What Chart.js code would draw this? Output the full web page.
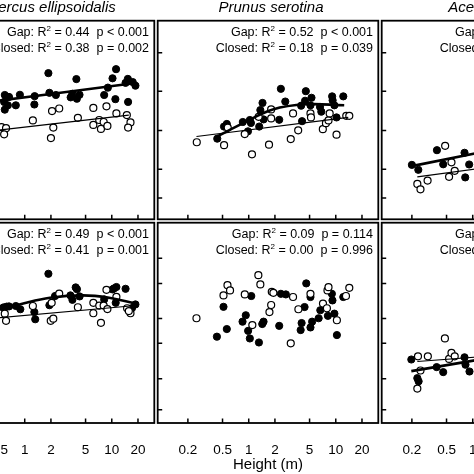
<!DOCTYPE html>
<html lang="en">
<head>
<meta charset="UTF-8">
<title>Growth vs height</title>
<script src="https://cdn.jsdelivr.net/npm/chart.js@4.4.1/dist/chart.umd.min.js"></script>
<style>
  html, body { margin: 0; padding: 0; background: #fff; }
  #fig { position: relative; width: 474px; height: 474px; overflow: hidden;
         font-family: 'Liberation Sans', Arial, Helvetica, sans-serif; color: #000; }
  #fig canvas { position: absolute; }
  .sp { position: absolute; top: -1px; width: 224px; text-align: center; font-style: italic;
        font-size: 15px; line-height: 15px; white-space: nowrap; }
  .stat { position: absolute; text-align: right; font-size: 12.5px; line-height: 15.5px; white-space: pre; }
  .stat sup { font-size: 8px; line-height: 0; vertical-align: 5px; }
</style>
</head>
<body>
<div id="fig"></div>
<script>
// species (columns) and the stats printed in each panel
const species = ['Quercus ellipsoidalis', 'Prunus serotina', 'Acer negundo'];
const gapStats = [['0.44', 'p < 0.001', '0.52', 'p < 0.001', '0.31', 'p = 0.005'],
                  ['0.49', 'p < 0.001', '0.09', 'p = 0.114', '0.27', 'p = 0.012']];
const closedStats = [['0.38', 'p = 0.002', '0.18', 'p = 0.039', '0.22', 'p = 0.021'],
                     ['0.41', 'p = 0.001', '0.00', 'p = 0.996', '0.05', 'p = 0.310']];

// axis ticks
const heightTicks = [0.2, 0.5, 1, 2, 5, 10, 20];
const yTicksTop = [83.8, 64.5, 44.7, 25.2, 10.7];
const yTicksBottom = [82.3, 69.6, 52.2, 39.8, 22.1, 6.6];

// Quercus, top row
const qeGapTop = [[0.58,59.1],[0.59,62.6],[0.66,61.6],[0.64,57.4],[0.59,55.2],[0.79,57.4],[0.88,62.7],[1.29,57.8],[1.30,62.0],[1.87,73.6],[1.92,63.7],[2.28,62.6],[3.37,61.4],[3.52,63.2],[3.92,70.6],[3.97,60.7],[4.26,62.7],[8.18,62.6],[9.02,66.3],[10.2,71.0],[11.2,75.6],[11.0,60.5],[14.4,68.7],[15.3,70.7],[17.4,69.1],[18.7,67.3],[15.4,59.1]];
const qeClosedTop = [[0.54,46.4],[0.61,45.9],[0.58,42.8],[1.24,49.8],[2.06,54.5],[2.49,55.8],[2.13,46.2],[2.00,40.9],[4.08,51.1],[6.14,56.1],[6.14,47.5],[7.18,50.0],[7.51,45.5],[8.07,49.0],[8.91,47.0],[8.69,56.9],[11.3,53.3],[14.9,52.5],[16.4,48.8],[15.4,46.2]];
const qeGapFitTop = [[0.2,57.5],[17.9,68.5]];
const qeClosedFitTop = [[0.2,42.9],[15.7,52.5]];

// Quercus, bottom row
const qeGapBot = [[0.57,57.7],[0.62,58.1],[0.66,58.2],[0.79,58.4],[0.89,56.8],[1.29,55.4],[1.32,51.8],[1.87,74.5],[1.92,58.8],[2.23,63.4],[3.35,63.7],[3.53,61.5],[3.85,67.7],[3.98,66.8],[4.27,63.2],[8.18,61.7],[10.2,66.7],[10.6,67.2],[11.3,67.9],[11.1,60.0],[14.4,67.0],[17.1,57.4],[18.7,59.2]];
const qeClosedBot = [[0.59,54.6],[0.61,51.0],[1.24,58.4],[2.04,60.0],[1.99,51.0],[2.13,52.1],[2.49,64.6],[4.08,57.8],[6.14,60.0],[6.14,54.8],[7.18,58.6],[7.51,50.0],[8.07,58.6],[8.91,56.9],[8.69,66.5],[11.3,63.0],[15.0,57.3],[16.4,54.8],[15.7,55.9]];
const qeGapFitBot = [[0.2,51.5],[0.53,56.8],[0.89,59.3],[1.95,62.5],[4.65,63.7],[9.32,62.5],[18.7,59.6]];
const qeClosedFitBot = [[0.2,51.0],[16.4,58.4]];

// Prunus, top row
const psGapTop = [[0.435,40.6],[0.52,46.7],[0.56,48.0],[0.855,49.0],[1.03,50.0],[1.06,48.5],[0.98,44.3],[1.32,46.7],[1.36,55.0],[1.44,58.6],[1.48,50.3],[2.34,65.7],[2.63,59.3],[2.24,50.1],[4.0,57.2],[4.1,49.4],[4.53,64.5],[4.44,59.7],[5.26,61.2],[5.12,57.4],[6.59,56.6],[6.82,54.2],[9.08,61.9],[9.2,59.9],[9.64,57.4],[10.2,51.3],[12.2,61.9]];
const psClosedTop = [[0.253,38.8],[0.521,37.3],[0.574,46.2],[0.90,42.9],[1.09,32.7],[1.30,51.6],[1.81,55.3],[1.81,50.8],[1.71,37.6],[3.04,40.4],[3.23,53.3],[3.70,44.8],[5.12,53.3],[5.19,51.3],[7.10,45.4],[7.71,48.4],[8.25,49.8],[8.51,53.3],[10.2,42.6],[13.2,52.1],[14.3,52.1]];
const psGapFitTop = [[0.432,41.7],[0.865,48.4],[1.89,55.3],[4.5,57.9],[12.5,57.4]];
const psClosedFitTop = [[0.251,41.7],[13.9,51.3]];

// Prunus, bottom row (no significant fit)
const psGapBot = [[0.431,43.1],[0.513,58.0],[0.56,46.9],[0.849,50.6],[0.925,53.8],[0.984,46.0],[1.03,42.2],[1.07,63.4],[1.31,40.2],[1.43,49.4],[1.48,50.6],[2.24,48.5],[2.34,64.5],[2.67,64.2],[3.95,46.4],[4.05,49.9],[4.38,57.9],[4.58,69.7],[5.12,62.9],[5.12,47.7],[5.35,50.6],[6.36,52.3],[6.64,56.3],[8.12,53.5],[9.02,64.5],[9.16,61.2],[9.64,54.6],[10.3,43.9],[12.2,62.9]];
const psClosedBot = [[0.251,52.3],[0.513,63.7],[0.57,68.8],[0.61,66.2],[0.901,64.2],[1.10,48.9],[1.29,73.8],[1.36,69.2],[1.73,55.4],[1.81,58.9],[1.84,65.5],[1.92,65.0],[3.04,39.8],[3.23,62.9],[3.72,56.8],[5.12,64.5],[7.13,59.6],[7.91,57.3],[8.03,66.2],[8.25,67.8],[10.3,51.3],[13.1,63.4],[14.3,67.5]];

// Acer, top row
const arGapTop = [[0.200,27.4],[0.237,24.9],[0.388,34.8],[0.458,27.7],[0.805,33.5],[0.910,27.6],[0.820,21.1]];
const arClosedTop = [[0.482,37.0],[0.570,28.7],[0.621,24.4],[0.535,21.4],[0.303,19.5],[0.231,17.8],[0.251,15.1]];
const arGapFitTop = [[0.206,26.9],[9.8,41.7]];
const arClosedFitTop = [[0.231,21.4],[9.8,31.0]];

// Acer, bottom row
const arGapBot = [[0.197,31.7],[0.231,22.4],[0.239,20.8],[0.385,27.9],[0.458,25.4],[0.805,32.8],[0.826,29.1],[0.918,25.7]];
const arClosedBot = [[0.235,33.3],[0.305,33.3],[0.479,42.2],[0.535,32.0],[0.570,35.0],[0.621,33.3],[0.251,26.2],[0.231,17.2]];
const arGapFitBot = [[0.197,25.9],[9.8,38.4]];
const arClosedFitBot = [[0.231,30.7],[9.8,36.0]];

const FONT = "'Liberation Sans', Arial, Helvetica, sans-serif";
const PW = 224, PH = 202, X0 = -68, Y0 = 19, M = 3, AXIS_H = 51;
const fig = document.getElementById('fig');
const pts = a => a.map(([x, y]) => ({x, y}));

// box + inward tick marks, placed with the chart's own scales
const framePlugin = {
  id: 'frame',
  afterDatasetsDraw(chart, args, opts) {
    const {ctx, chartArea: a, scales: {x, y}} = chart;
    ctx.save();
    ctx.strokeStyle = '#000';
    ctx.lineWidth = 1.8;
    ctx.strokeRect(a.left, a.top, a.right - a.left, a.bottom - a.top);
    ctx.lineWidth = 1.5;
    ctx.beginPath();
    heightTicks.forEach(v => {
      const px = x.getPixelForValue(v);
      ctx.moveTo(px, a.bottom); ctx.lineTo(px, a.bottom - 4.5);
    });
    opts.yTicks.forEach(v => {
      const py = y.getPixelForValue(v);
      ctx.moveTo(a.left, py); ctx.lineTo(a.left + 4.5, py);
    });
    ctx.stroke();
    ctx.restore();
  }
};

function panel(row, col, gap, closed, gapFit, closedFit) {
  const left = X0 + col * PW, top = Y0 + row * PH;
  const bottomRow = row === 1;
  const w = PW + 2 * M, h = bottomRow ? M + PH + AXIS_H : PH + 2 * M;
  const cv = document.createElement('canvas');
  cv.width = w; cv.height = h;
  cv.style.left = (left - M) + 'px';
  cv.style.top = (top - M) + 'px';
  cv.style.width = w + 'px';
  cv.style.height = h + 'px';
  fig.appendChild(cv);

  const datasets = [];
  if (gapFit) datasets.push({data: pts(gapFit), showLine: true, borderColor: '#000', borderWidth: 2.6,
    pointRadius: 0, tension: 0.4, fill: false});
  if (closedFit) datasets.push({data: pts(closedFit), showLine: true, borderColor: '#000', borderWidth: 1.2,
    pointRadius: 0, fill: false});
  datasets.push({data: pts(closed), pointRadius: 3.5, pointHoverRadius: 3.5,
    pointBackgroundColor: '#fff', pointBorderColor: '#000', pointBorderWidth: 1.2});
  datasets.push({data: pts(gap), pointRadius: 3.6, pointHoverRadius: 3.6,
    pointBackgroundColor: '#000', pointBorderColor: '#000', pointBorderWidth: 1});

  new Chart(cv, {
    type: 'scatter',
    data: {datasets},
    options: {
      responsive: false,
      animation: false,
      devicePixelRatio: 1,
      events: [],
      layout: {padding: {left: M, right: M, top: M, bottom: bottomRow ? 0 : M}},
      plugins: {legend: {display: false}, tooltip: {enabled: false}, frame: {yTicks: bottomRow ? yTicksBottom : yTicksTop}},
      scales: {
        x: {
          type: 'logarithmic', min: 0.09, max: 30.8, bounds: 'data',
          display: bottomRow,
          grid: {display: false}, border: {display: false},
          afterBuildTicks: s => { s.ticks = heightTicks.map(v => ({value: v})); },
          afterFit: s => { if (bottomRow) s.height = AXIS_H; },
          ticks: {autoSkip: false, maxRotation: 0, padding: 11.5, color: '#000',
                  font: {family: FONT, size: 13.5}, callback: v => String(v)},
          title: {display: col === 1, text: 'Height (m)', color: '#000',
                  font: {family: FONT, size: 15}, padding: {top: 0, bottom: 0}}
        },
        y: {type: 'linear', min: 0, max: 100, bounds: 'data', display: false}
      }
    },
    plugins: [framePlugin]
  });

  const st = document.createElement('div');
  st.className = 'stat';
  st.style.left = left + 'px';
  st.style.width = (PW - 7) + 'px';
  st.style.top = (top + 6.4) + 'px';
  const g = gapStats[row], c = closedStats[row];
  st.innerHTML = 'Gap: R<sup>2</sup> = ' + g[col * 2] + '  ' + g[col * 2 + 1].replace('<', '&lt;') +
    '\nClosed: R<sup>2</sup> = ' + c[col * 2] + '  ' + c[col * 2 + 1].replace('<', '&lt;');
  fig.appendChild(st);

  if (row === 0) {
    const t = document.createElement('div');
    t.className = 'sp';
    t.style.left = (left + 3) + 'px';
    t.textContent = species[col];
    fig.appendChild(t);
  }
}

panel(0, 0, qeGapTop, qeClosedTop, qeGapFitTop, qeClosedFitTop);
panel(0, 1, psGapTop, psClosedTop, psGapFitTop, psClosedFitTop);
panel(0, 2, arGapTop, arClosedTop, arGapFitTop, arClosedFitTop);
panel(1, 0, qeGapBot, qeClosedBot, qeGapFitBot, qeClosedFitBot);
panel(1, 1, psGapBot, psClosedBot, null, null);
panel(1, 2, arGapBot, arClosedBot, arGapFitBot, arClosedFitBot);
</script>
</body>
</html>
